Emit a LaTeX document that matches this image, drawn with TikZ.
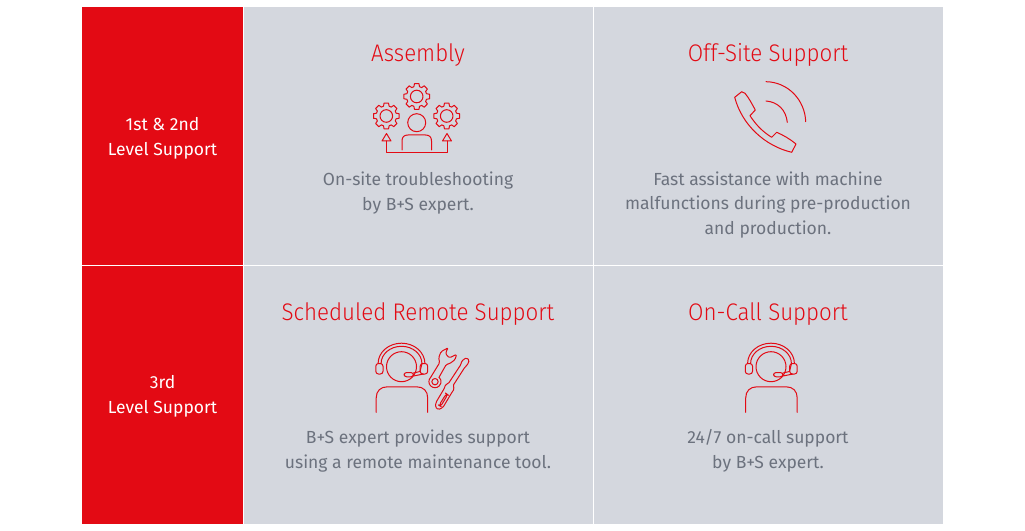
\documentclass[tikz,border=0pt]{standalone}
\usepackage{fontspec}
\setmainfont{Fira Sans}
\newfontfamily\titlefont[FakeStretch=0.93]{Fira Sans Light}
\definecolor{brandred}{HTML}{E30A14}
\definecolor{panel}{HTML}{D4D7DE}
\definecolor{bodygrey}{HTML}{6C727E}
\tikzset{
  panelbox/.style={fill=panel,draw=none},
  redbox/.style={fill=brandred,draw=none},
  titletext/.style={text=brandred,font=\titlefont\fontsize{18}{22}\selectfont,anchor=center,inner sep=0pt},
  bodytext/.style={text=bodygrey,font=\fontsize{13.13}{18.6}\selectfont,align=center,anchor=center,inner sep=0pt},
  sidetext/.style={text=white,font=\fontsize{13.13}{18.6}\selectfont,align=center,anchor=center,inner sep=0pt},
  icon/.style={draw=brandred,line width=0.75pt,line join=round,line cap=round}
}
\newcommand{\geargl}[2]{%
  \begin{scope}[shift={(#1,#2)}]
  \draw[icon] (-10:13) \foreach \a in {0,45,...,315}{ -- (\a-10:13) -- (\a+10:13) -- (\a+16:10.2) -- (\a+29:10.2)} -- cycle;
  \draw[icon] (0,0) circle (6.3);
  \end{scope}}
\newcommand{\headsetgl}[1]{%
  \begin{scope}[shift={(#1,0)}]
  \draw[icon] (771,366.7) circle (15);
  \draw[icon] (750.6,363.5) arc (180:360:20.4 and 17.2);
  \draw[icon] (747.6,363.5) arc (180:360:23.4 and 20.3);
  \draw[icon,rounded corners=2] (745.3,363.5) rectangle (752.5,374);
  \draw[icon,rounded corners=2] (789.7,363.5) rectangle (797.2,374);
  \draw[icon,rounded corners=2] (773.5,372.5) rectangle (783,376.8);
  \draw[icon] (783,373) -- (789.5,371.5) -- (791.5,363.5);
  \draw[icon] (783,376) -- (793,374);
  \draw[icon] (745.7,412.3) -- (745.7,398) .. controls (745.7,391) and (750,386.8) .. (757,386.8) -- (786,386.8) .. controls (793,386.8) and (797.2,391) .. (797.2,398) -- (797.2,412.3);
  \end{scope}}
\begin{document}
\begin{tikzpicture}[x=0.75pt,y=-0.75pt]
\useasboundingbox (0,0) rectangle (1025,531);
\fill[white] (0,0) rectangle (1025,531);
\fill[redbox] (82,7) rectangle (242.5,523.5);
\fill[white] (82,264.7) rectangle (242.5,265.9);
\fill[panelbox] (243.5,7) rectangle (592.5,264.7);
\fill[panelbox] (593.8,7) rectangle (943,264.7);
\fill[panelbox] (243.5,265.9) rectangle (592.5,523.5);
\fill[panelbox] (593.8,265.9) rectangle (943,523.5);

\node[sidetext] (s1) at (162.5,138.5) {1st \& 2nd\\Level Support};
\node[sidetext] (s2) at (162.5,396.5) {3rd\\Level Support};

\node[titletext] (t1) at (418,55) {Assembly};
\node[titletext] (t2) at (768,55) {Off-Site Support};
\node[titletext] (t3) at (418,314) {Scheduled Remote Support};
\node[titletext] (t4) at (768,314) {On-Call Support};

\node[bodytext] (b1) at (418,193) {On-site troubleshooting\\by B+S expert.};
\node[bodytext] (b2) at (768,205) {Fast assistance with machine\\malfunctions during pre-production\\and production.};
\node[bodytext] (b3) at (418,451) {B+S expert provides support\\using a remote maintenance tool.};
\node[bodytext] (b4) at (768,451) {24/7 on-call support\\by B+S expert.};

% assembly icon
\geargl{386.3}{116}
\geargl{416.7}{96.5}
\geargl{446.7}{116}
\draw[icon] (416.7,122.7) circle (9);
\draw[icon] (402,150) -- (402,141) .. controls (402,137) and (404,135) .. (408,135) -- (425.5,135) .. controls (429.5,135) and (431.5,137) .. (431.5,141) -- (431.5,150);
\draw[icon] (386.5,141) -- (386.5,153) -- (447,153) -- (447,141);
\draw[icon] (386.5,133.5) -- (391,141) -- (382,141) -- cycle;
\draw[icon] (447,133.5) -- (451.5,141) -- (442.5,141) -- cycle;

% phone icon
\draw[icon] (734.7,97.3) -- (741.7,91.7) -- (745,93.3) .. controls (749,98) and (752,104) .. (755.3,110) -- (750,115.7) .. controls (756,125) and (763,132) .. (771.7,137.3) -- (776.7,132.3) .. controls (783,135) and (790,139) .. (796,144) -- (791.7,152.3) .. controls (765,146) and (742,125) .. (734.7,97.3) -- cycle;
\draw[icon] (766,101) .. controls (778,102) and (786,110) .. (787.3,122.3);
\draw[icon] (766,81.7) .. controls (788,82) and (805,100) .. (805.7,121.7);

% headset icons
\headsetgl{-369.5}
\headsetgl{0}

% wrench and screwdriver
\begin{scope}[shift={(425,345)},x=0.25pt,y=-0.25pt]
\draw[icon,rounded corners=1] (42,97) -- (64,58) -- (74,56) -- (90,44) -- (95,28) -- (75,38) -- (66,33) -- (62,22) -- (70,8) -- (48,20) -- (41,38) -- (44,53) -- (17,97);
\draw[icon] (17,97) arc (225:-47:18.2);
\draw[icon] (30,110) circle (9.5);
\draw[icon,rounded corners=1] (124,38) -- (133,46) -- (127,60) -- (120,66) -- (84,122) -- (88,132) -- (82,140) -- (54,187) -- (40,194) -- (31,186) -- (33,172) -- (58,130) -- (62,118) -- (70,116) -- (108,58) -- (110,48) -- cycle;
\draw[icon,rounded corners=2] (64,146) -- (68,149) -- (47,184) -- (42,181) -- cycle;
\end{scope}
\end{tikzpicture}
\end{document}
